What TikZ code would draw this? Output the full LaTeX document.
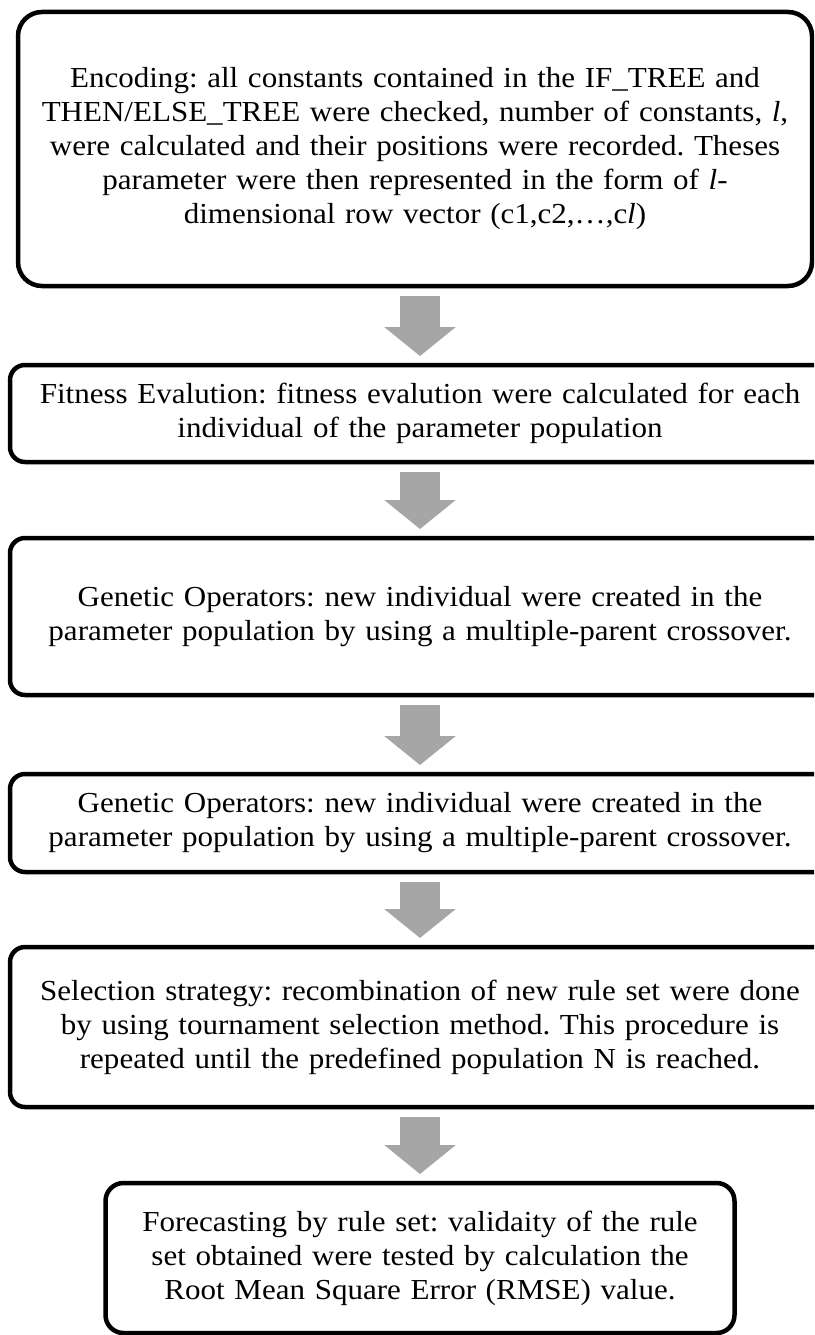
\documentclass[tikz,border=0pt]{standalone}
\usepackage{fontspec}
\setmainfont[FakeStretch=1.07]{Liberation Serif}
\usepackage{tikz}
\usetikzlibrary{arrows.meta,positioning}
\definecolor{arrowgray}{RGB}{166,166,166}
\frenchspacing
\tikzset{
    stage/.style={draw, line width=4.5pt, rounded corners=15pt, inner sep=0pt, outer sep=0pt,
        minimum width=820pt, text width=810pt, align=center, font=\fontsize{29}{34}\selectfont},
    flow/.style={-{Triangle[length=29pt, width=70pt]}, line width=40pt, arrowgray,
        shorten <=10pt, shorten >=9pt}
}

\begin{document}
\begin{tikzpicture}[x=1pt, y=1pt, node distance=76pt]
            \useasboundingbox (0,0) rectangle (814,-1335);
            \clip (0,0) rectangle (814,-1335);
            \node[stage, rounded corners=24pt, minimum width=794pt, text width=790pt, minimum height=274pt] (enc) at (415,-149)
                {Encoding: all constants contained in the IF\_TREE and\\
                 THEN/ELSE\_TREE were checked, number of constants, \textit{l},\\
                 were calculated and their positions were recorded. Theses\\
                 parameter were then represented in the form of \textit{l}-\\
                 dimensional row vector (c1,c2,…,c\textit{l})};
            \node[stage, minimum height=97pt, below=79pt of enc, xshift=5pt] (fit)
                {Fitness Evalution: fitness evalution were calculated for each\\
                 individual of the parameter population};
            \node[stage, minimum height=157pt, below=of fit] (gen)
                {Genetic Operators: new individual were created in the\\
                 parameter population by using a multiple-parent crossover.};
            \node[stage, minimum height=98pt, below=79pt of gen] (genb)
                {Genetic Operators: new individual were created in the\\
                 parameter population by using a multiple-parent crossover.};
            \node[stage, minimum height=160pt, below=75pt of genb] (sel)
                {Selection strategy: recombination of new rule set were done\\
                 by using tournament selection method. This procedure is\\
                 repeated until the predefined population N is reached.};
            \node[stage, rounded corners=18pt, minimum width=629pt, text width=620pt, minimum height=150pt, below=of sel] (fore)
                {Forecasting by rule set: validaity of the rule\\
                 set obtained were tested by calculation the\\
                 Root Mean Square Error (RMSE) value.};

            \draw[flow] (enc.south -| fit.north) -- (fit.north);
            \draw[flow] (fit) -- (gen);
            \draw[flow] (gen) -- (genb);
            \draw[flow] (genb) -- (sel);
            \draw[flow] (sel) -- (fore);
        \end{tikzpicture}
\end{document}
